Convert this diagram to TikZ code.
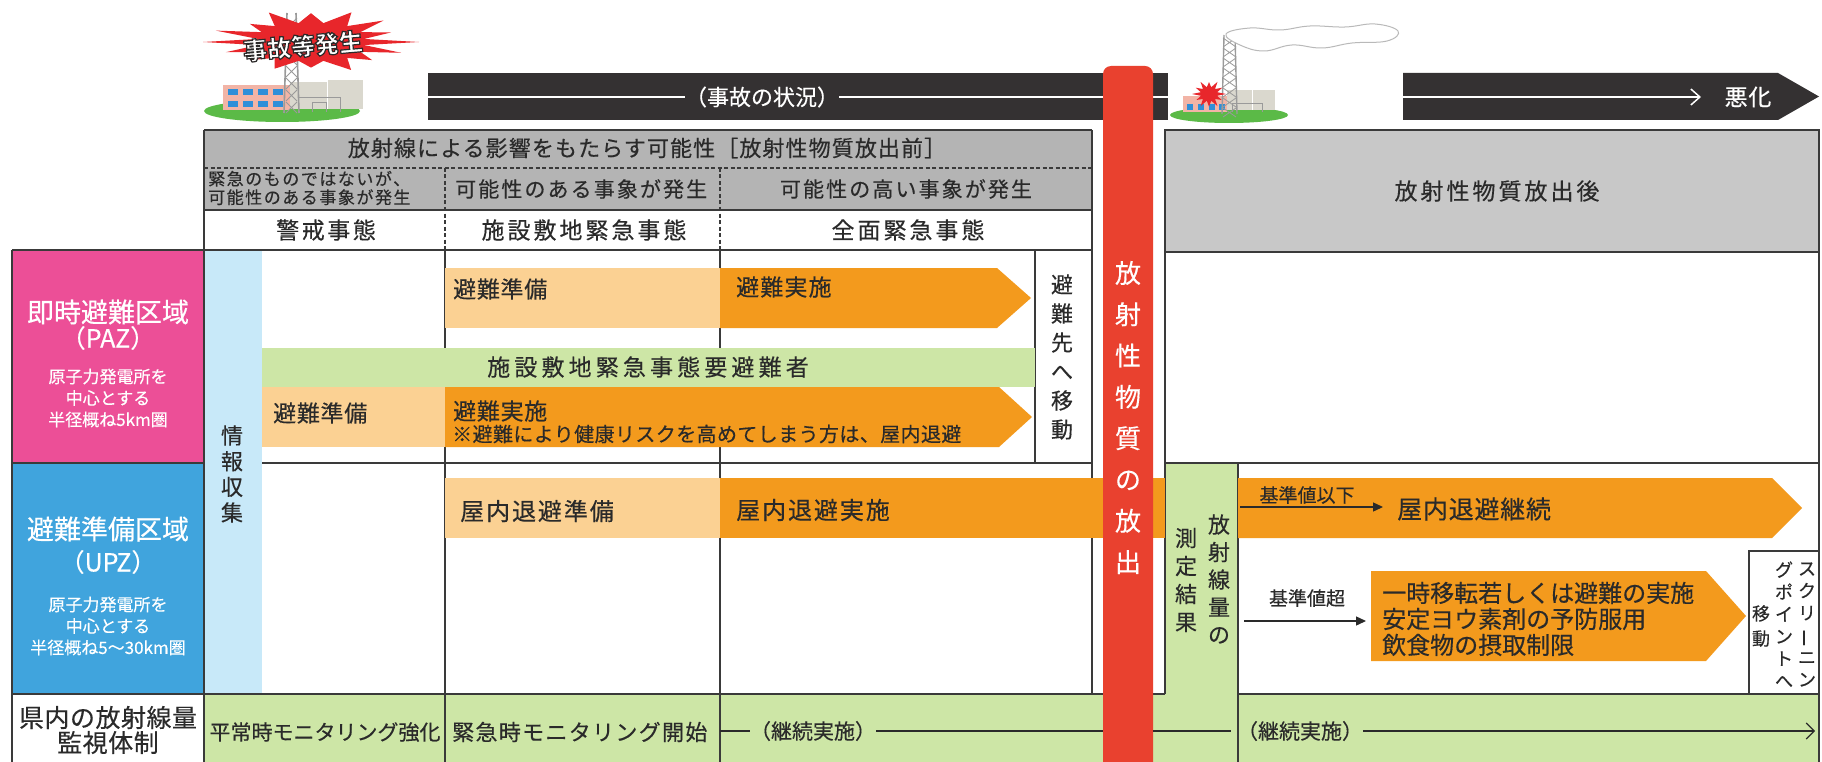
\documentclass[tikz,border=0pt]{standalone}
\usepackage{fontspec}
\usepackage{graphicx}
\setmainfont{Noto Sans CJK JP}[FakeBold=0.35]
\usetikzlibrary{arrows.meta}
\definecolor{txtc}{HTML}{2A2A2A}
\definecolor{linec}{HTML}{3A3A3A}
\definecolor{hdrgray}{HTML}{B4B4B4}
\definecolor{hdrgrayb}{HTML}{C8C8C8}
\definecolor{barblack}{HTML}{343132}
\definecolor{redbar}{HTML}{E9412F}
\definecolor{pinkc}{HTML}{EC4F97}
\definecolor{bluec}{HTML}{40A4DD}
\definecolor{lblue}{HTML}{C8E9F9}
\definecolor{lorange}{HTML}{FBD193}
\definecolor{orangec}{HTML}{F39A1D}
\definecolor{greenc}{HTML}{CDE6A6}
\definecolor{groundg}{HTML}{5BBA47}
\definecolor{bldpink}{HTML}{F2B4A6}
\definecolor{bldgray}{HTML}{DAD8CE}
\definecolor{towerg}{HTML}{9A9A9A}
\definecolor{winblue}{HTML}{2F8FD8}
\definecolor{burstred}{HTML}{E8262B}
\newcommand{\fs}[2]{\fontsize{#1}{#2}\selectfont}
\newcommand{\ls}[1]{\addfontfeature{LetterSpace=#1}}
\newcommand{\vbar}{\rotatebox[origin=c]{90}{ー}}
\newcommand{\outlinedtext}[1]{\special{pdf:literal 0.17 0.16 0.16 RG}#1}
\begin{document}
\begin{tikzpicture}[x=1pt,y=-1pt,
 grid/.style={draw=linec, line width=1.6pt},
 dgrid/.style={draw=linec, line width=1.4pt, dash pattern=on 4pt off 2.5pt},
 tx/.style={inner sep=0pt, text=txtc},
 wt/.style={inner sep=0pt, text=white},
 arr/.style={draw=txtc, line width=1.3pt, -{Triangle[length=10pt,width=9pt]}},
 thin line/.style={draw=txtc, line width=1.2pt},
]
\useasboundingbox (0,0) rectangle (1822,762);
\fill[white] (0,0) rectangle (1822,762);

% ---------- left icon ----------
\fill[groundg] (282,111) ellipse [x radius=78, y radius=11];
\fill[bldgray] (290,82) rectangle (327,109);
\fill[bldgray] (327,80) rectangle (363,109);
\draw[white, line width=0.8] (327,80) -- (327,109);
\fill[bldpink] (223,85) rectangle (290,110);
\foreach \xx in {228,243,258,273} {
  \fill[winblue] (\xx,89) rectangle ++(10,6);
  \fill[winblue] (\xx,101) rectangle ++(10,6);
}
\draw[towerg, line width=1] (298,112) -- (298,98) -- (340,98) -- (340,112) (312,112) -- (312,103) -- (326,103) -- (326,112);
\draw[towerg, line width=1.6] (284,113) -- (287,13) (299,113) -- (296,13);
\foreach \yy in {18,30,...,102} \draw[towerg, line width=0.9] (286,\yy) -- (297,\yy+11) (297,\yy) -- (286,\yy+11);
\begin{scope}[shift={(311,42)}, x=108pt, y=32pt]
 \fill[burstred] (0:1) -- (11:0.5) -- (22:0.8) -- (34:0.55) -- (45:0.95) -- (56:0.6) -- (68:1.0) -- (79:0.6) -- (90:0.9) -- (101:0.6) -- (113:1.0) -- (124:0.6) -- (135:0.8) -- (146:0.55) -- (158:0.95) -- (169:0.5) -- (180:1) -- (191:0.5) -- (202:0.85) -- (214:0.55) -- (225:0.8) -- (236:0.6) -- (248:0.9) -- (259:0.6) -- (270:0.8) -- (281:0.6) -- (293:0.95) -- (304:0.6) -- (315:0.8) -- (326:0.55) -- (338:0.9) -- (349:0.5) -- cycle;
\end{scope}
\node[wt, rotate=5, font=\fs{24}{26}\bfseries\addfontfeature{FakeBold=5}] (acc0) at (303,46) {\outlinedtext{事故等発生}};

% ---------- right icon ----------
\fill[groundg] (1229,115) ellipse [x radius=59, y radius=8];
\fill[bldgray] (1227,90) rectangle (1252,110);
\fill[bldgray] (1252,90) rectangle (1275,110);
\draw[white, line width=0.8] (1252,90) -- (1252,110);
\fill[bldpink] (1183,96) rectangle (1227,112);
\foreach \xx in {1187,1198,1209,1219} \fill[winblue] (\xx,104) rectangle ++(6,6);
\draw[towerg, line width=1] (1232,112) -- (1232,104) -- (1262,104) -- (1262,112);
\draw[towerg, line width=1.4] (1222,114) -- (1224,35) (1237,114) -- (1235,35);
\foreach \yy in {38,48,...,108} \draw[towerg, line width=0.8] (1223,\yy) -- (1236,\yy+9) (1236,\yy) -- (1223,\yy+9);
\draw[gray!55, fill=white, line width=1] plot[smooth cycle, tension=0.7] coordinates {(1226,34) (1250,28) (1280,30) (1310,26) (1345,27) (1375,24) (1398,31) (1387,41) (1352,43) (1322,48) (1292,45) (1264,51) (1240,45)};
\begin{scope}[shift={(1209,94)}, x=17pt, y=14pt]
 \fill[burstred] (0:1) -- (15:0.5) -- (30:0.9) -- (45:0.5) -- (60:1) -- (75:0.5) -- (90:0.85) -- (105:0.5) -- (120:1) -- (135:0.5) -- (150:0.9) -- (165:0.5) -- (180:1) -- (195:0.5) -- (210:0.85) -- (225:0.5) -- (240:1) -- (255:0.5) -- (270:0.9) -- (285:0.5) -- (300:1) -- (315:0.5) -- (330:0.85) -- (345:0.5) -- cycle;
\end{scope}

% ---------- black bars ----------
\fill[barblack] (428,73) rectangle (1168,120);
\node[wt, font=\fs{22}{24}] (acc) at (762,97) {（事故の状況）};
\coordinate (la) at (428,97);
\coordinate (lb) at (1168,97);
\draw[white, line width=1.5] (la) -- (acc.west) (acc.east) -- (lb);
\fill[barblack] (1403,73) -- (1778,73) -- (1819,96.5) -- (1778,120) -- (1403,120) -- cycle;
\coordinate (rb1) at (1403,97);
\coordinate (rb2) at (1701,97);
\draw[white, line width=1.5, -{Straight Barb[length=9pt,width=16pt]}] (rb1) -- (rb2);
\node[wt, font=\fs{23}{26}\ls{3}] (akka) at (1748,97) {悪化};

% ---------- cell fills ----------
\fill[hdrgray] (204,130) rectangle (1092,210);
\fill[white] (204,210) rectangle (1092,250);
\fill[hdrgrayb] (1165,130) rectangle (1819,252);
\fill[pinkc] (12,250) rectangle (204,463);
\fill[bluec] (12,463) rectangle (204,694);
\fill[lblue] (204,250) rectangle (262,694);
\fill[greenc] (204,694) rectangle (1819,762);
\fill[greenc] (1165,463) rectangle (1238,762);

% ---------- grid lines ----------
\draw[grid] (204,130) -- (1092,130);
\draw[dgrid] (204,168) -- (1092,168);
\draw[grid] (204,210) -- (1092,210);
\draw[grid] (12,250) -- (1092,250);
\draw[grid] (12,463) -- (204,463);
\draw[grid] (262,463) -- (1092,463);
\draw[grid] (12,694) -- (1165,694);
\draw[grid] (12,250) -- (12,762);
\draw[grid] (204,130) -- (204,762);
\draw[dgrid] (445,168) -- (445,250);
\draw[grid] (445,250) -- (445,762);
\draw[dgrid] (720,168) -- (720,250);
\draw[grid] (720,250) -- (720,762);
\draw[grid] (1035,250) -- (1035,463);
\draw[grid] (1092,130) -- (1092,694);
\draw[grid] (1165,130) rectangle (1819,252);
\draw[grid] (1165,252) -- (1165,694);
\draw[grid] (1819,252) -- (1819,762);
\draw[grid] (1165,463) -- (1819,463);
\draw[grid] (1238,463) -- (1238,762);
\draw[grid] (1238,694) -- (1819,694);
\draw[grid] (1749,551) rectangle (1819,694);

% ---------- bars ----------
\fill[lorange] (445,268) rectangle (720,328);
\fill[orangec] (720,268) -- (997,268) -- (1031,298) -- (997,328) -- (720,328) -- cycle;
\fill[greenc] (262,348) rectangle (1035,387);
\fill[lorange] (262,387) rectangle (445,447);
\fill[orangec] (445,387) -- (999,387) -- (1032,417) -- (999,447) -- (445,447) -- cycle;
\fill[lorange] (445,478) rectangle (720,538);
\fill[orangec] (720,478) rectangle (1165,538);
\fill[orangec] (1238,478) -- (1772,478) -- (1802,508) -- (1772,538) -- (1238,538) -- cycle;
\fill[orangec] (1371,571) -- (1706,571) -- (1746,616) -- (1706,661) -- (1371,661) -- cycle;

% ---------- red bar ----------
\fill[redbar, rounded corners=8pt] (1103,780) -- (1103,66) -- (1153,66) -- (1153,780) -- cycle;
\node[wt, align=center, font=\fs{26}{41.3}] (rel) at (1128,417.5) {放\\射\\性\\物\\質\\の\\放\\出};

% ---------- header texts ----------
\node[tx, font=\fs{22}{26}\ls{5}] (h1) at (647,148) {放射線による影響をもたらす可能性［放射性物質放出前］};
\node[tx, anchor=west, align=left, font=\fs{17}{18.5}\ls{9}] (h2a) at (208,188) {緊急のものではないが、\\可能性のある事象が発生};
\node[tx, anchor=west, font=\fs{21}{24}\ls{10}] (h2b) at (455,189) {可能性のある事象が発生};
\node[tx, font=\fs{21}{24}\ls{10}] (h2c) at (906,189) {可能性の高い事象が発生};
\node[tx, font=\fs{23}{26}\ls{11}] (h3a) at (326,230) {警戒事態};
\node[tx, font=\fs{23}{26}\ls{13}] (h3b) at (584,230) {施設敷地緊急事態};
\node[tx, font=\fs{23}{26}\ls{13}] (h3c) at (908,230) {全面緊急事態};
\node[tx, font=\fs{23}{26}\ls{13}] (h4) at (1497,191) {放射性物質放出後};

% ---------- zone texts ----------
\node[wt, font=\fs{27}{30}] (paz1) at (108,312) {即時避難区域};
\node[wt, font=\fs{25}{28}] (paz2) at (108,338) {（PAZ）};
\node[wt, align=center, font=\fs{17}{21.5}] (paz3) at (108,398) {原子力発電所を\\中心とする\\半径概ね5km圏};
\node[wt, font=\fs{27}{30}] (upz1) at (108,529) {避難準備区域};
\node[wt, font=\fs{25}{28}] (upz2) at (108,562) {（UPZ）};
\node[wt, align=center, font=\fs{17}{21.5}] (upz3) at (108,626) {原子力発電所を\\中心とする\\半径概ね5～30km圏};
\node[tx, align=center, font=\fs{25}{25}\ls{2}] (mon) at (108,730) {県内の放射線量\\監視体制};
\node[tx, align=center, font=\fs{22}{25.7}] (info) at (232,474) {情\\報\\収\\集};

% ---------- PAZ row texts ----------
\node[tx, anchor=west, font=\fs{23}{26}\ls{3}] (p1) at (453,289) {避難準備};
\node[tx, anchor=west, font=\fs{23}{26}\ls{5}] (p2) at (736,287) {避難実施};
\node[tx, font=\fs{23}{26}\ls{18}] (p3) at (648,367) {施設敷地緊急事態要避難者};
\node[tx, anchor=west, font=\fs{23}{26}\ls{3}] (p4) at (273,413) {避難準備};
\node[tx, anchor=west, font=\fs{23}{26}\ls{3}] (p5) at (453,411) {避難実施};
\node[tx, anchor=west, font=\fs{20}{22}\ls{2}] (p6) at (452,434) {※避難により健康リスクを高めてしまう方は、屋内退避};
\node[tx, align=center, font=\fs{22}{29}] (p7) at (1062,357) {避\\難\\先\\へ\\移\\動};

% ---------- UPZ row texts ----------
\node[tx, anchor=west, font=\fs{24}{26}\ls{8}] (u1) at (460,511) {屋内退避準備};
\node[tx, anchor=west, font=\fs{24}{26}\ls{8}] (u2) at (736,510) {屋内退避実施};

% ---------- after release ----------
\node[tx, align=center, font=\fs{22}{27.5}] (m1) at (1219,579) {放\\射\\線\\量\\の};
\node[tx, align=center, font=\fs{22}{28}] (m2) at (1186,580) {測\\定\\結\\果};
\node[tx, font=\fs{19}{22}] (k1) at (1307,495) {基準値以下};
\coordinate (ua) at (1240,507);
\coordinate (ub) at (1383,507);
\draw[arr] (ua) -- (ub);
\node[tx, anchor=west, font=\fs{25}{28}\ls{3}] (k2) at (1397,509) {屋内退避継続};
\node[tx, font=\fs{19}{22}] (k3) at (1307,598) {基準値超};
\coordinate (va) at (1244,621);
\coordinate (vb) at (1366,621);
\draw[arr] (va) -- (vb);
\node[tx, anchor=west, align=left, font=\fs{24}{26}] (k4) at (1382,619) {一時移転若しくは避難の実施\\安定ヨウ素剤の予防服用\\飲食物の摂取制限};
\node[tx, align=center, font=\fs{18}{22.2}] (s1) at (1807,624.5) {ス\\ク\\リ\\\vbar\\ニ\\ン};
\node[tx, align=center, font=\fs{18}{22.2}] (s2) at (1784,624.5) {グ\\ポ\\イ\\ン\\ト\\へ};
\node[tx, align=center, font=\fs{18}{25}] (s3) at (1761,626) {移\\動};

% ---------- monitoring row ----------
\node[tx, font=\fs{21}{24}] (b1) at (325,732) {平常時モニタリング強化};
\node[tx, anchor=west, font=\fs{22}{24}\ls{6}] (b2) at (452,732) {緊急時モニタリング開始};
\node[tx, font=\fs{21}{24}] (b3) at (813,731) {（継続実施）};
\node[tx, font=\fs{21}{24}] (b4) at (1300,731) {（継続実施）};
\coordinate (c1) at (720,731);
\coordinate (c2) at (1231,731);
\coordinate (c3) at (1815,731);
\draw[thin line] (c1) -- (b3.west);
\draw[thin line] (b3.east) -- (c2);
\draw[thin line, -{Straight Barb[length=8pt,width=16pt]}] (b4.east) -- (c3);
\fill[redbar] (1103,694) rectangle (1153,762);
\end{tikzpicture}
\end{document}
